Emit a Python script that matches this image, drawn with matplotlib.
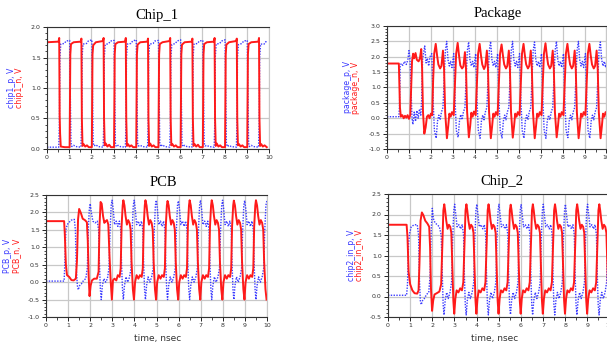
import numpy as np
import matplotlib
matplotlib.use("Agg")
import matplotlib.pyplot as plt
from matplotlib.ticker import FormatStrFormatter, MultipleLocator

# (time in nsec, volts) breakpoints
chip1_n = [
    (0.00, 1.75), (0.52, 1.76), (0.55, 1.82), (0.57, 0.55), (0.59, 0.25), (0.62, 0.04), (0.80, 0.03), (1.02, 0.03),
    (1.05, 1.55), (1.08, 1.72), (1.20, 1.75), (1.52, 1.76), (1.55, 1.81), (1.57, 0.50), (1.60, 0.05), (1.65, 0.08), (1.72, 0.04), (1.80, 0.06), (1.88, 0.03), (2.02, 0.03),
    (2.05, 1.55), (2.08, 1.70), (2.20, 1.75), (2.52, 1.77), (2.55, 1.82), (2.57, 0.50), (2.60, 0.06), (2.65, 0.09), (2.72, 0.04), (2.80, 0.07), (2.88, 0.03), (3.02, 0.03),
    (3.05, 1.55), (3.08, 1.72), (3.20, 1.75), (3.52, 1.76), (3.55, 1.82), (3.57, 0.50), (3.60, 0.05), (3.65, 0.08), (3.72, 0.04), (3.80, 0.06), (3.88, 0.03), (4.02, 0.03),
    (4.05, 1.55), (4.08, 1.71), (4.20, 1.75), (4.52, 1.76), (4.55, 1.81), (4.57, 0.50), (4.60, 0.05), (4.65, 0.09), (4.72, 0.04), (4.80, 0.06), (4.88, 0.03), (5.02, 0.03),
    (5.05, 1.55), (5.08, 1.72), (5.20, 1.75), (5.52, 1.77), (5.55, 1.82), (5.57, 0.50), (5.60, 0.06), (5.65, 0.08), (5.72, 0.04), (5.80, 0.06), (5.88, 0.03), (6.02, 0.03),
    (6.05, 1.55), (6.08, 1.71), (6.20, 1.75), (6.52, 1.76), (6.55, 1.81), (6.57, 0.50), (6.60, 0.05), (6.65, 0.08), (6.72, 0.04), (6.80, 0.07), (6.88, 0.03), (7.02, 0.03),
    (7.05, 1.55), (7.08, 1.72), (7.20, 1.75), (7.52, 1.76), (7.55, 1.82), (7.57, 0.50), (7.60, 0.05), (7.65, 0.09), (7.72, 0.04), (7.80, 0.06), (7.88, 0.03), (8.02, 0.03),
    (8.05, 1.55), (8.08, 1.71), (8.20, 1.75), (8.52, 1.77), (8.55, 1.81), (8.57, 0.50), (8.60, 0.06), (8.65, 0.08), (8.72, 0.04), (8.80, 0.06), (8.88, 0.03), (9.02, 0.03),
    (9.05, 1.55), (9.08, 1.72), (9.20, 1.75), (9.52, 1.76), (9.55, 1.82), (9.57, 0.50), (9.60, 0.05), (9.65, 0.08), (9.72, 0.04), (9.80, 0.06), (9.90, 0.03),
]
chip1_p = [
    (0.00, 0.03), (0.53, 0.03), (0.56, 0.45), (0.58, 1.50), (0.62, 1.72), (0.78, 1.73), (0.86, 1.77), (1.02, 1.78),
    (1.05, 0.90), (1.08, 0.10), (1.12, 0.04), (1.20, 0.06), (1.30, 0.04), (1.53, 0.03), (1.56, 0.45), (1.58, 1.50), (1.62, 1.72), (1.78, 1.73), (1.86, 1.77), (2.02, 1.79),
    (2.05, 0.90), (2.08, 0.10), (2.12, 0.05), (2.20, 0.07), (2.30, 0.04), (2.53, 0.03), (2.56, 0.45), (2.58, 1.50), (2.62, 1.71), (2.78, 1.73), (2.86, 1.77), (3.02, 1.78),
    (3.05, 0.90), (3.08, 0.10), (3.12, 0.04), (3.20, 0.06), (3.30, 0.04), (3.53, 0.03), (3.56, 0.45), (3.58, 1.50), (3.62, 1.72), (3.78, 1.73), (3.86, 1.77), (4.02, 1.79),
    (4.05, 0.90), (4.08, 0.10), (4.12, 0.05), (4.20, 0.06), (4.30, 0.04), (4.53, 0.03), (4.56, 0.45), (4.58, 1.50), (4.62, 1.72), (4.78, 1.73), (4.86, 1.77), (5.02, 1.78),
    (5.05, 0.90), (5.08, 0.10), (5.12, 0.04), (5.20, 0.07), (5.30, 0.04), (5.53, 0.03), (5.56, 0.45), (5.58, 1.50), (5.62, 1.71), (5.78, 1.73), (5.86, 1.77), (6.02, 1.79),
    (6.05, 0.90), (6.08, 0.10), (6.12, 0.04), (6.20, 0.06), (6.30, 0.04), (6.53, 0.03), (6.56, 0.45), (6.58, 1.50), (6.62, 1.72), (6.78, 1.73), (6.86, 1.77), (7.02, 1.78),
    (7.05, 0.90), (7.08, 0.10), (7.12, 0.05), (7.20, 0.06), (7.30, 0.04), (7.53, 0.03), (7.56, 0.45), (7.58, 1.50), (7.62, 1.72), (7.78, 1.73), (7.86, 1.77), (8.02, 1.79),
    (8.05, 0.90), (8.08, 0.10), (8.12, 0.04), (8.20, 0.06), (8.30, 0.04), (8.53, 0.03), (8.56, 0.45), (8.58, 1.50), (8.62, 1.71), (8.78, 1.73), (8.86, 1.77), (9.02, 1.78),
    (9.05, 0.90), (9.08, 0.10), (9.12, 0.04), (9.20, 0.06), (9.30, 0.04), (9.53, 0.03), (9.56, 0.45), (9.58, 1.50), (9.62, 1.72), (9.78, 1.72), (9.86, 1.76), (9.90, 1.75),
]

package_n = [
    (0.00, 1.78), (0.54, 1.78), (0.56, 1.20), (0.59, 0.35), (0.63, 0.05), (0.70, 0.10), (0.76, 0.00), (0.82, 0.08), (0.88, 0.02), (0.94, 0.10), (1.00, -0.02), (1.06, 0.10),
    (1.10, 1.00), (1.14, 1.85), (1.19, 2.10), (1.24, 1.95), (1.30, 2.12), (1.36, 1.90), (1.44, 1.85), (1.50, 1.95), (1.56, 2.25), (1.60, 1.60), (1.64, 0.20), (1.70, -0.50), (1.76, -0.30), (1.82, 0.05), (1.88, 0.10), (1.94, 0.00), (2.00, 0.15), (2.06, 0.10),
    (2.10, 1.20), (2.15, 2.10), (2.22, 2.42), (2.28, 2.05), (2.34, 1.75), (2.42, 1.62), (2.48, 1.70), (2.55, 2.20), (2.60, 1.60), (2.65, 0.20), (2.73, -0.65), (2.79, -0.25), (2.84, 0.15), (2.90, 0.05), (2.96, 0.20), (3.04, 0.10),
    (3.10, 1.20), (3.15, 2.10), (3.22, 2.45), (3.28, 2.05), (3.34, 1.72), (3.42, 1.62), (3.48, 1.68), (3.55, 2.15), (3.60, 1.60), (3.65, 0.20), (3.73, -0.62), (3.79, -0.25), (3.84, 0.18), (3.90, 0.05), (3.96, 0.22), (4.04, 0.10),
    (4.10, 1.20), (4.15, 2.10), (4.22, 2.42), (4.28, 2.05), (4.34, 1.75), (4.42, 1.60), (4.48, 1.70), (4.55, 2.20), (4.60, 1.60), (4.65, 0.20), (4.73, -0.65), (4.79, -0.25), (4.84, 0.15), (4.90, 0.05), (4.96, 0.20), (5.04, 0.10),
    (5.10, 1.20), (5.15, 2.10), (5.22, 2.40), (5.28, 2.05), (5.34, 1.75), (5.42, 1.62), (5.48, 1.70), (5.55, 2.20), (5.60, 1.60), (5.65, 0.20), (5.73, -0.63), (5.79, -0.25), (5.84, 0.15), (5.90, 0.05), (5.96, 0.20), (6.04, 0.10),
    (6.10, 1.20), (6.15, 2.10), (6.22, 2.42), (6.28, 2.05), (6.34, 1.75), (6.42, 1.62), (6.48, 1.70), (6.55, 2.20), (6.60, 1.60), (6.65, 0.20), (6.73, -0.65), (6.79, -0.25), (6.84, 0.15), (6.90, 0.05), (6.96, 0.20), (7.04, 0.10),
    (7.10, 1.20), (7.15, 2.10), (7.22, 2.44), (7.28, 2.05), (7.34, 1.75), (7.42, 1.62), (7.48, 1.70), (7.55, 2.20), (7.60, 1.60), (7.65, 0.20), (7.73, -0.62), (7.79, -0.25), (7.84, 0.15), (7.90, 0.05), (7.96, 0.20), (8.04, 0.10),
    (8.10, 1.20), (8.15, 2.10), (8.22, 2.42), (8.28, 2.05), (8.34, 1.75), (8.42, 1.62), (8.48, 1.70), (8.55, 2.20), (8.60, 1.60), (8.65, 0.20), (8.73, -0.65), (8.79, -0.25), (8.84, 0.15), (8.90, 0.05), (8.96, 0.20), (9.04, 0.10),
    (9.10, 1.20), (9.15, 2.10), (9.22, 2.42), (9.28, 2.05), (9.34, 1.75), (9.42, 1.62), (9.48, 1.70), (9.55, 2.20), (9.60, 1.60), (9.65, 0.20), (9.73, -0.65), (9.79, -0.25), (9.84, 0.15), (9.90, 0.05), (9.96, 0.20), (10.0, 0.15),
]
package_p = [
    (0.00, 0.05), (0.54, 0.05), (0.57, 0.40), (0.60, 1.70), (0.65, 1.78), (0.72, 1.72), (0.80, 1.85), (0.88, 1.75), (0.95, 1.90), (1.00, 2.20), (1.05, 1.90),
    (1.10, 0.80), (1.14, 0.00), (1.18, -0.20), (1.24, 0.20), (1.30, -0.10), (1.36, 0.25), (1.42, 0.00), (1.48, 0.30), (1.54, 0.10), (1.58, 0.60), (1.62, 1.90), (1.66, 2.10), (1.72, 2.35), (1.78, 1.80), (1.84, 1.95), (1.90, 1.70), (1.96, 2.00), (2.04, 2.10),
    (2.10, 0.60), (2.16, -0.40), (2.24, -0.65), (2.30, -0.10), (2.36, 0.10), (2.42, -0.05), (2.48, 0.20), (2.55, 0.35), (2.60, 1.20), (2.66, 2.20), (2.72, 2.50), (2.78, 1.90), (2.84, 1.70), (2.90, 1.85), (2.96, 1.65), (3.04, 2.10),
    (3.10, 0.60), (3.16, -0.40), (3.24, -0.62), (3.30, -0.10), (3.36, 0.12), (3.42, -0.05), (3.48, 0.20), (3.55, 0.35), (3.60, 1.20), (3.66, 2.20), (3.72, 2.48), (3.78, 1.90), (3.84, 1.70), (3.90, 1.85), (3.96, 1.65), (4.04, 2.10),
    (4.10, 0.60), (4.16, -0.40), (4.24, -0.65), (4.30, -0.10), (4.36, 0.10), (4.42, -0.05), (4.48, 0.20), (4.55, 0.35), (4.60, 1.20), (4.66, 2.20), (4.72, 2.50), (4.78, 1.90), (4.84, 1.70), (4.90, 1.85), (4.96, 1.65), (5.04, 2.10),
    (5.10, 0.60), (5.16, -0.40), (5.24, -0.64), (5.30, -0.10), (5.36, 0.10), (5.42, -0.05), (5.48, 0.20), (5.55, 0.35), (5.60, 1.20), (5.66, 2.20), (5.72, 2.50), (5.78, 1.90), (5.84, 1.70), (5.90, 1.85), (5.96, 1.65), (6.04, 2.10),
    (6.10, 0.60), (6.16, -0.40), (6.24, -0.65), (6.30, -0.10), (6.36, 0.10), (6.42, -0.05), (6.48, 0.20), (6.55, 0.35), (6.60, 1.20), (6.66, 2.20), (6.72, 2.48), (6.78, 1.90), (6.84, 1.70), (6.90, 1.85), (6.96, 1.65), (7.04, 2.10),
    (7.10, 0.60), (7.16, -0.40), (7.24, -0.65), (7.30, -0.10), (7.36, 0.10), (7.42, -0.05), (7.48, 0.20), (7.55, 0.35), (7.60, 1.20), (7.66, 2.20), (7.72, 2.50), (7.78, 1.90), (7.84, 1.70), (7.90, 1.85), (7.96, 1.65), (8.04, 2.10),
    (8.10, 0.60), (8.16, -0.40), (8.24, -0.63), (8.30, -0.10), (8.36, 0.10), (8.42, -0.05), (8.48, 0.20), (8.55, 0.35), (8.60, 1.20), (8.66, 2.20), (8.72, 2.50), (8.78, 1.90), (8.84, 1.70), (8.90, 1.85), (8.96, 1.65), (9.04, 2.10),
    (9.10, 0.60), (9.16, -0.40), (9.24, -0.65), (9.30, -0.10), (9.36, 0.10), (9.42, -0.05), (9.48, 0.20), (9.55, 0.35), (9.60, 1.20), (9.66, 2.20), (9.72, 2.48), (9.78, 1.90), (9.84, 1.70), (9.90, 1.85), (9.96, 1.65), (10.0, 1.80),
]

pcb_n = [
    (0.00, 1.75), (0.82, 1.75), (0.85, 1.40), (0.90, 0.50), (0.95, 0.20), (1.05, 0.15), (1.15, 0.06), (1.25, 0.05), (1.35, 0.10),
    (1.40, 0.60), (1.45, 1.80), (1.50, 2.10), (1.58, 1.98), (1.66, 1.82), (1.76, 1.78), (1.85, 1.72), (1.89, 1.20), (1.93, 0.20), (1.97, -0.40), (2.02, -0.10), (2.08, 0.05), (2.18, 0.10), (2.30, 0.10), (2.38, 0.30),
    (2.42, 1.60), (2.47, 2.30), (2.52, 2.25), (2.58, 1.90), (2.64, 1.70), (2.70, 1.75), (2.76, 1.78), (2.82, 1.65), (2.87, 0.80), (2.93, 0.00), (2.98, -0.50), (3.03, 0.05), (3.10, 0.10), (3.18, 0.05), (3.25, 0.20), (3.33, 0.15), (3.38, 0.40),
    (3.42, 1.60), (3.47, 2.20), (3.50, 2.35), (3.55, 2.20), (3.60, 1.90), (3.66, 1.65), (3.72, 1.78), (3.78, 1.70), (3.83, 1.50), (3.87, 0.60), (3.93, -0.20), (3.98, -0.50), (4.03, 0.00), (4.10, 0.20), (4.18, 0.10), (4.25, 0.20), (4.33, 0.15), (4.38, 0.40),
    (4.42, 1.60), (4.47, 2.20), (4.50, 2.35), (4.55, 2.20), (4.60, 1.90), (4.66, 1.65), (4.72, 1.78), (4.78, 1.70), (4.83, 1.50), (4.87, 0.60), (4.93, -0.20), (4.98, -0.50), (5.03, 0.00), (5.10, 0.20), (5.18, 0.10), (5.25, 0.20), (5.33, 0.15), (5.38, 0.40),
    (5.42, 1.60), (5.47, 2.20), (5.50, 2.33), (5.55, 2.20), (5.60, 1.90), (5.66, 1.65), (5.72, 1.78), (5.78, 1.70), (5.83, 1.50), (5.87, 0.60), (5.93, -0.20), (5.98, -0.50), (6.03, 0.00), (6.10, 0.20), (6.18, 0.10), (6.25, 0.20), (6.33, 0.15), (6.38, 0.40),
    (6.42, 1.60), (6.47, 2.20), (6.50, 2.35), (6.55, 2.20), (6.60, 1.90), (6.66, 1.65), (6.72, 1.78), (6.78, 1.70), (6.83, 1.50), (6.87, 0.60), (6.93, -0.20), (6.98, -0.50), (7.03, 0.00), (7.10, 0.20), (7.18, 0.10), (7.25, 0.20), (7.33, 0.15), (7.38, 0.40),
    (7.42, 1.60), (7.47, 2.20), (7.50, 2.35), (7.55, 2.20), (7.60, 1.90), (7.66, 1.65), (7.72, 1.78), (7.78, 1.70), (7.83, 1.50), (7.87, 0.60), (7.93, -0.20), (7.98, -0.50), (8.03, 0.00), (8.10, 0.20), (8.18, 0.10), (8.25, 0.20), (8.33, 0.15), (8.38, 0.40),
    (8.42, 1.60), (8.47, 2.20), (8.50, 2.34), (8.55, 2.20), (8.60, 1.90), (8.66, 1.65), (8.72, 1.78), (8.78, 1.70), (8.83, 1.50), (8.87, 0.60), (8.93, -0.20), (8.98, -0.50), (9.03, 0.00), (9.10, 0.20), (9.18, 0.10), (9.25, 0.20), (9.33, 0.15), (9.38, 0.40),
    (9.42, 1.60), (9.47, 2.20), (9.50, 2.35), (9.55, 2.20), (9.60, 1.90), (9.66, 1.65), (9.72, 1.78), (9.78, 1.70), (9.83, 1.50), (9.87, 0.60), (9.93, -0.20), (9.98, -0.50),
]
pcb_p = [
    (0.00, 0.03), (0.82, 0.03), (0.85, 0.50), (0.90, 1.50), (0.96, 1.65), (1.05, 1.72), (1.15, 1.78), (1.28, 1.80), (1.33, 1.50),
    (1.37, 0.40), (1.42, -0.10), (1.46, -0.22), (1.52, -0.10), (1.60, -0.05), (1.70, 0.05), (1.80, 0.10), (1.87, 0.40), (1.92, 1.60), (1.96, 2.10), (2.00, 2.25), (2.05, 2.00), (2.12, 1.75), (2.22, 1.70), (2.32, 1.75), (2.38, 1.50),
    (2.42, 0.50), (2.46, -0.20), (2.50, -0.50), (2.55, -0.10), (2.62, 0.10), (2.70, 0.00), (2.78, 0.10), (2.85, 0.40), (2.90, 1.50), (2.95, 2.20), (2.99, 2.35), (3.04, 2.10), (3.10, 1.65), (3.18, 1.75), (3.25, 1.60), (3.32, 1.75), (3.38, 1.50),
    (3.42, 0.50), (3.46, -0.20), (3.50, -0.50), (3.55, -0.10), (3.62, 0.15), (3.70, 0.00), (3.78, 0.15), (3.85, 0.40), (3.90, 1.50), (3.95, 2.20), (3.99, 2.35), (4.04, 2.10), (4.10, 1.65), (4.18, 1.75), (4.25, 1.60), (4.32, 1.75), (4.38, 1.50),
    (4.42, 0.50), (4.46, -0.20), (4.50, -0.50), (4.55, -0.10), (4.62, 0.15), (4.70, 0.00), (4.78, 0.15), (4.85, 0.40), (4.90, 1.50), (4.95, 2.20), (4.99, 2.35), (5.04, 2.10), (5.10, 1.65), (5.18, 1.75), (5.25, 1.60), (5.32, 1.75), (5.38, 1.50),
    (5.42, 0.50), (5.46, -0.20), (5.50, -0.50), (5.55, -0.10), (5.62, 0.15), (5.70, 0.00), (5.78, 0.15), (5.85, 0.40), (5.90, 1.50), (5.95, 2.20), (5.99, 2.33), (6.04, 2.10), (6.10, 1.65), (6.18, 1.75), (6.25, 1.60), (6.32, 1.75), (6.38, 1.50),
    (6.42, 0.50), (6.46, -0.20), (6.50, -0.50), (6.55, -0.10), (6.62, 0.15), (6.70, 0.00), (6.78, 0.15), (6.85, 0.40), (6.90, 1.50), (6.95, 2.20), (6.99, 2.35), (7.04, 2.10), (7.10, 1.65), (7.18, 1.75), (7.25, 1.60), (7.32, 1.75), (7.38, 1.50),
    (7.42, 0.50), (7.46, -0.20), (7.50, -0.50), (7.55, -0.10), (7.62, 0.15), (7.70, 0.00), (7.78, 0.15), (7.85, 0.40), (7.90, 1.50), (7.95, 2.20), (7.99, 2.35), (8.04, 2.10), (8.10, 1.65), (8.18, 1.75), (8.25, 1.60), (8.32, 1.75), (8.38, 1.50),
    (8.42, 0.50), (8.46, -0.20), (8.50, -0.50), (8.55, -0.10), (8.62, 0.15), (8.70, 0.00), (8.78, 0.15), (8.85, 0.40), (8.90, 1.50), (8.95, 2.20), (8.99, 2.34), (9.04, 2.10), (9.10, 1.65), (9.18, 1.75), (9.25, 1.60), (9.32, 1.75), (9.38, 1.50),
    (9.42, 0.50), (9.46, -0.20), (9.50, -0.50), (9.55, -0.10), (9.62, 0.15), (9.70, 0.00), (9.78, 0.15), (9.85, 0.40), (9.90, 1.50), (9.95, 2.20), (10.0, 2.35),
]

chip2_n = [
    (0.00, 1.75), (0.84, 1.75), (0.88, 1.45), (0.93, 0.60), (1.00, 0.30), (1.10, 0.15), (1.20, 0.08), (1.32, 0.07), (1.38, 0.15),
    (1.42, 0.80), (1.47, 1.85), (1.53, 2.05), (1.60, 1.98), (1.68, 1.85), (1.78, 1.78), (1.86, 1.70), (1.90, 1.20), (1.94, 0.20), (1.99, -0.35), (2.04, -0.10), (2.10, 0.05), (2.20, 0.08), (2.32, 0.12), (2.40, 0.30),
    (2.45, 1.20), (2.50, 2.10), (2.54, 2.25), (2.58, 2.10), (2.63, 1.85), (2.69, 1.65), (2.75, 1.75), (2.81, 1.70), (2.86, 1.55), (2.90, 0.80), (2.95, -0.10), (2.99, -0.42), (3.04, -0.05), (3.10, 0.15), (3.18, 0.10), (3.26, 0.20), (3.34, 0.15), (3.40, 0.35),
    (3.45, 1.20), (3.50, 2.10), (3.54, 2.25), (3.58, 2.10), (3.63, 1.85), (3.69, 1.65), (3.75, 1.75), (3.81, 1.70), (3.86, 1.55), (3.90, 0.80), (3.95, -0.10), (3.99, -0.42), (4.04, -0.05), (4.10, 0.15), (4.18, 0.10), (4.26, 0.20), (4.34, 0.15), (4.40, 0.35),
    (4.45, 1.20), (4.50, 2.10), (4.54, 2.25), (4.58, 2.10), (4.63, 1.85), (4.69, 1.65), (4.75, 1.75), (4.81, 1.70), (4.86, 1.55), (4.90, 0.80), (4.95, -0.10), (4.99, -0.42), (5.04, -0.05), (5.10, 0.15), (5.18, 0.10), (5.26, 0.20), (5.34, 0.15), (5.40, 0.35),
    (5.45, 1.20), (5.50, 2.10), (5.54, 2.24), (5.58, 2.10), (5.63, 1.85), (5.69, 1.65), (5.75, 1.75), (5.81, 1.70), (5.86, 1.55), (5.90, 0.80), (5.95, -0.10), (5.99, -0.42), (6.04, -0.05), (6.10, 0.15), (6.18, 0.10), (6.26, 0.20), (6.34, 0.15), (6.40, 0.35),
    (6.45, 1.20), (6.50, 2.10), (6.54, 2.25), (6.58, 2.10), (6.63, 1.85), (6.69, 1.65), (6.75, 1.75), (6.81, 1.70), (6.86, 1.55), (6.90, 0.80), (6.95, -0.10), (6.99, -0.42), (7.04, -0.05), (7.10, 0.15), (7.18, 0.10), (7.26, 0.20), (7.34, 0.15), (7.40, 0.35),
    (7.45, 1.20), (7.50, 2.10), (7.54, 2.25), (7.58, 2.10), (7.63, 1.85), (7.69, 1.65), (7.75, 1.75), (7.81, 1.70), (7.86, 1.55), (7.90, 0.80), (7.95, -0.10), (7.99, -0.42), (8.04, -0.05), (8.10, 0.15), (8.18, 0.10), (8.26, 0.20), (8.34, 0.15), (8.40, 0.35),
    (8.45, 1.20), (8.50, 2.10), (8.54, 2.25), (8.58, 2.10), (8.63, 1.85), (8.69, 1.65), (8.75, 1.75), (8.81, 1.70), (8.86, 1.55), (8.90, 0.80), (8.95, -0.10), (8.99, -0.42), (9.04, -0.05), (9.10, 0.15), (9.18, 0.10), (9.26, 0.20), (9.34, 0.15), (9.40, 0.35),
    (9.45, 1.20), (9.50, 2.10), (9.54, 2.25), (9.58, 2.10), (9.63, 1.85), (9.69, 1.65), (9.75, 1.75), (9.81, 1.70), (9.86, 1.55), (9.90, 0.80), (9.95, -0.10), (10.0, -0.40),
]
chip2_p = [
    (0.00, 0.03), (0.84, 0.03), (0.88, 0.30), (0.93, 1.30), (0.98, 1.55), (1.05, 1.70), (1.18, 1.75), (1.32, 1.75), (1.38, 1.50),
    (1.42, 0.40), (1.46, -0.10), (1.50, -0.20), (1.56, -0.10), (1.64, -0.05), (1.74, 0.05), (1.84, 0.10), (1.90, 0.50), (1.95, 1.60), (2.00, 2.15), (2.05, 1.90), (2.12, 1.80), (2.22, 1.75), (2.32, 1.70), (2.40, 1.50),
    (2.45, 0.50), (2.49, -0.20), (2.53, -0.45), (2.58, -0.10), (2.65, 0.10), (2.72, -0.05), (2.80, 0.10), (2.87, 0.35), (2.92, 1.40), (2.97, 2.10), (3.01, 2.25), (3.06, 2.00), (3.12, 1.70), (3.20, 1.75), (3.28, 1.65), (3.35, 1.75), (3.41, 1.50),
    (3.45, 0.50), (3.49, -0.20), (3.53, -0.45), (3.58, -0.10), (3.65, 0.10), (3.72, -0.05), (3.80, 0.10), (3.87, 0.35), (3.92, 1.40), (3.97, 2.10), (4.01, 2.25), (4.06, 2.00), (4.12, 1.70), (4.20, 1.75), (4.28, 1.65), (4.35, 1.75), (4.41, 1.50),
    (4.45, 0.50), (4.49, -0.20), (4.53, -0.45), (4.58, -0.10), (4.65, 0.10), (4.72, -0.05), (4.80, 0.10), (4.87, 0.35), (4.92, 1.40), (4.97, 2.10), (5.01, 2.25), (5.06, 2.00), (5.12, 1.70), (5.20, 1.75), (5.28, 1.65), (5.35, 1.75), (5.41, 1.50),
    (5.45, 0.50), (5.49, -0.20), (5.53, -0.44), (5.58, -0.10), (5.65, 0.10), (5.72, -0.05), (5.80, 0.10), (5.87, 0.35), (5.92, 1.40), (5.97, 2.10), (6.01, 2.24), (6.06, 2.00), (6.12, 1.70), (6.20, 1.75), (6.28, 1.65), (6.35, 1.75), (6.41, 1.50),
    (6.45, 0.50), (6.49, -0.20), (6.53, -0.45), (6.58, -0.10), (6.65, 0.10), (6.72, -0.05), (6.80, 0.10), (6.87, 0.35), (6.92, 1.40), (6.97, 2.10), (7.01, 2.25), (7.06, 2.00), (7.12, 1.70), (7.20, 1.75), (7.28, 1.65), (7.35, 1.75), (7.41, 1.50),
    (7.45, 0.50), (7.49, -0.20), (7.53, -0.45), (7.58, -0.10), (7.65, 0.10), (7.72, -0.05), (7.80, 0.10), (7.87, 0.35), (7.92, 1.40), (7.97, 2.10), (8.01, 2.25), (8.06, 2.00), (8.12, 1.70), (8.20, 1.75), (8.28, 1.65), (8.35, 1.75), (8.41, 1.50),
    (8.45, 0.50), (8.49, -0.20), (8.53, -0.45), (8.58, -0.10), (8.65, 0.10), (8.72, -0.05), (8.80, 0.10), (8.87, 0.35), (8.92, 1.40), (8.97, 2.10), (9.01, 2.25), (9.06, 2.00), (9.12, 1.70), (9.20, 1.75), (9.28, 1.65), (9.35, 1.75), (9.41, 1.50),
    (9.45, 0.50), (9.49, -0.20), (9.53, -0.45), (9.58, -0.10), (9.65, 0.10), (9.72, -0.05), (9.80, 0.10), (9.87, 0.35), (9.92, 1.40), (9.97, 2.10), (10.0, 2.20),
]

titles = ["Chip_1", "Package", "PCB", "Chip_2"]
p_labels = ["chip1_p, V", "package_p, V", "PCB_p, V", "chip2_in_p, V"]
n_labels = ["chip1_n, V", "package_n, V", "PCB_n, V", "chip2_in_n, V"]
y_ranges = [(0.0, 2.0), (-1.0, 3.0), (-1.0, 2.5), (-0.5, 2.5)]

W, H = 607.0, 342.0
fig = plt.figure(figsize=(W / 100, H / 100), dpi=100)

# axes boxes in pixels: left, top, right, bottom
boxes = [(47, 27, 269, 149), (387, 26, 606.5, 149), (46, 195, 267, 317), (388, 194, 609.5, 317)]
title_pos = [(157, 15), (498, 14), (163, 182), (502, 182)]
ylab_x = [(11, 19.5), (347, 356), (8, 16.5), (351, 360)]

RED = "#ff1a1a"
BLUE = "#3a3aff"
GRID = "#c8c8c8"

traces = [(chip1_p, chip1_n), (package_p, package_n), (pcb_p, pcb_n), (chip2_p, chip2_n)]

for i, (l, t, r, b) in enumerate(boxes):
    ax = fig.add_axes([l / W, 1 - b / H, (r - l) / W, (b - t) / H])
    p, n = traces[i]
    p = np.array(p)
    n = np.array(n)
    ax.plot(p[:, 0], p[:, 1], color=BLUE, lw=1.0, ls=(0, (1, 1)))
    ax.plot(n[:, 0], n[:, 1], color=RED, lw=1.4)

    ax.set_xlim(0, 10)
    ax.set_ylim(*y_ranges[i])
    ax.xaxis.set_major_locator(MultipleLocator(1))
    ax.xaxis.set_minor_locator(MultipleLocator(0.5))
    ax.yaxis.set_major_locator(MultipleLocator(0.5))
    ax.yaxis.set_minor_locator(MultipleLocator(0.1))
    ax.yaxis.set_major_formatter(FormatStrFormatter("%.1f"))
    ax.grid(True, which="major", color=GRID, lw=0.9)
    ax.set_axisbelow(True)
    ax.tick_params(which="major", labelsize=4.5, labelcolor="#333333", length=3, width=0.6, pad=1.5)
    ax.tick_params(which="minor", length=1.8, width=0.5)
    for s in ["left", "top", "bottom"]:
        ax.spines[s].set_color("#333333")
        ax.spines[s].set_linewidth(0.8)
    ax.spines["right"].set_color(GRID)

    tx, ty = title_pos[i]
    fig.text(tx / W, 1 - ty / H, titles[i], ha="center", va="center",
             family="Liberation Serif", fontsize=10.5)
    yc = 1 - (t + b) / 2 / H
    fig.text(ylab_x[i][0] / W, yc, p_labels[i], rotation=90, ha="center", va="center",
             color=BLUE, fontsize=5.6)
    fig.text(ylab_x[i][1] / W, yc, n_labels[i], rotation=90, ha="center", va="center",
             color=RED, fontsize=5.6)

fig.text(158 / W, 1 - 339 / H, "time, nsec", ha="center", va="center", fontsize=6.5, color="#333333")
fig.text(495 / W, 1 - 339 / H, "time, nsec", ha="center", va="center", fontsize=6.5, color="#333333")

fig.savefig("out.png", dpi=100)
